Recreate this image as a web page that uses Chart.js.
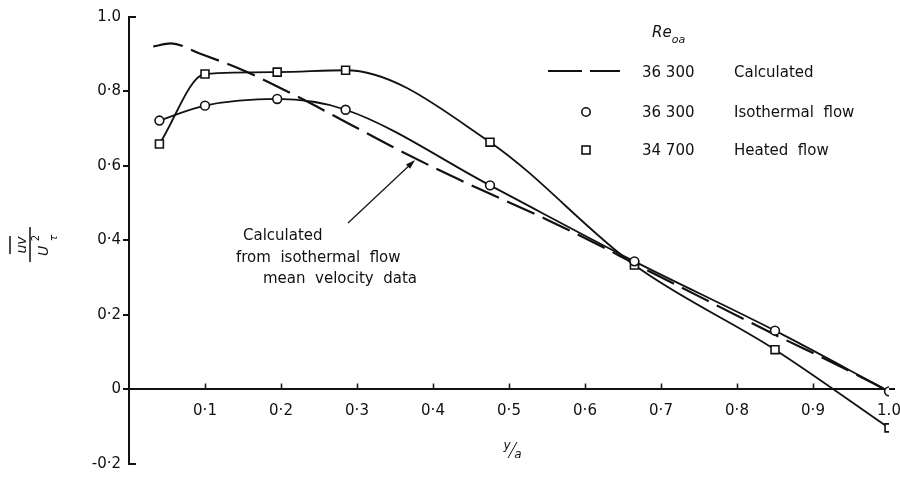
<!DOCTYPE html>
<html>
<head>
<meta charset="utf-8">
<script src="https://cdn.jsdelivr.net/npm/chart.js@4"></script>
<style>
  html, body { margin: 0; padding: 0; background: #fff; }
</style>
</head>
<body>
<canvas id="chart" width="900" height="481"></canvas>
<script>
// values (y/a vs uv/U_tau^2)
const stations = [0.04, 0.1, 0.195, 0.285, 0.475, 0.665, 0.85, 1.0];
const isothermal = [0.722, 0.762, 0.780, 0.751, 0.548, 0.344, 0.158, -0.005];
const heated = [0.659, 0.847, 0.852, 0.857, 0.664, 0.334, 0.107, -0.103];

const calcX = [0.032, 0.055, 0.093, 0.15, 0.22, 0.29, 0.35, 0.41, 0.47, 0.55, 0.62, 0.665, 0.75, 0.85, 0.93, 1.0];
const calcY = [0.921, 0.929, 0.902, 0.857, 0.788, 0.713, 0.648, 0.587, 0.530, 0.456, 0.386, 0.338, 0.250, 0.147, 0.068, -0.005];

const xTicks = [0.1, 0.2, 0.3, 0.4, 0.5, 0.6, 0.7, 0.8, 0.9, 1.0];
const xTickLabels = ['0·1', '0·2', '0·3', '0·4', '0·5', '0·6', '0·7', '0·8', '0·9', '1.0'];
const yTicks = [-0.2, 0, 0.2, 0.4, 0.6, 0.8, 1.0];
const yTickLabels = ['-0·2', '0', '0·2', '0·4', '0·6', '0·8', '1.0'];

const INK = '#111';
const FONT = '"DejaVu Sans", sans-serif';

function pts(xs, ys) {
    return xs.map((x, i) => ({ x: x, y: ys[i] }));
}

function findLabel(ticks, labels, v) {
    const i = ticks.findIndex(t => Math.abs(t - v) < 1e-6);
    return i < 0 ? '' : labels[i];
}

// extra drawing: tick marks, legend, note, axis titles
const decorations = {
    id: 'decorations',
    afterDraw(chart) {
        const ctx = chart.ctx;
        const xs = chart.scales.x;
        const ys = chart.scales.y;
        const ax = xs.getPixelForValue(0);
        const ay = ys.getPixelForValue(0);
        ctx.save();
        ctx.strokeStyle = INK;
        ctx.fillStyle = INK;
        ctx.lineWidth = 2;
        ctx.setLineDash([]);

        // zero line runs a little past 1.0
        ctx.beginPath();
        ctx.moveTo(xs.right, Math.round(ay));
        ctx.lineTo(xs.right + 6, Math.round(ay));
        ctx.stroke();

        // y ticks (ends point inward, rest outward)
        yTicks.forEach((v, i) => {
            const py = Math.round(ys.getPixelForValue(v));
            ctx.beginPath();
            if (i === 0 || i === yTicks.length - 1) {
                ctx.moveTo(ax, py); ctx.lineTo(ax + 7, py);
            } else {
                ctx.moveTo(ax - 6, py); ctx.lineTo(ax, py);
            }
            ctx.stroke();
        });
        // x ticks, upward from the zero line
        ctx.lineWidth = 1.5;
        xTicks.slice(0, -1).forEach(v => {
            const px = Math.round(xs.getPixelForValue(v)) + 0.5;
            ctx.beginPath();
            ctx.moveTo(px, ay); ctx.lineTo(px, ay - 6);
            ctx.stroke();
        });

        // legend
        ctx.textBaseline = 'middle';
        ctx.textAlign = 'left';
        ctx.font = 'italic 15px ' + FONT;
        ctx.fillText('Re', 652, 33);
        const rw = ctx.measureText('Re').width;
        ctx.font = 'italic 11px ' + FONT;
        ctx.fillText('oa', 652 + rw, 40);

        ctx.font = '15px ' + FONT;
        ctx.lineWidth = 2.2;
        ctx.beginPath();
        ctx.moveTo(548, 71); ctx.lineTo(582, 71);
        ctx.moveTo(590, 71); ctx.lineTo(620, 71);
        ctx.stroke();
        ctx.fillText('36 300', 642, 73);
        ctx.fillText('Calculated', 734, 73);

        ctx.lineWidth = 1.6;
        ctx.beginPath();
        ctx.arc(586, 112, 4.2, 0, Math.PI * 2);
        ctx.stroke();
        ctx.fillText('36 300', 642, 113);
        ctx.fillText('Isothermal  flow', 734, 113);

        ctx.strokeRect(582, 146, 8, 8);
        ctx.fillText('34 700', 642, 151);
        ctx.fillText('Heated  flow', 734, 151);

        // note with arrow
        ctx.fillText('Calculated', 243, 236);
        ctx.fillText('from  isothermal  flow', 236, 258);
        ctx.fillText('mean  velocity  data', 263, 279);
        ctx.lineWidth = 1.2;
        ctx.beginPath();
        ctx.moveTo(348, 223); ctx.lineTo(413, 162);
        ctx.stroke();
        const ang = Math.atan2(160 - 223, 415 - 348);
        ctx.beginPath();
        ctx.moveTo(415, 160);
        ctx.lineTo(415 - 10 * Math.cos(ang - 0.3), 160 - 10 * Math.sin(ang - 0.3));
        ctx.lineTo(415 - 10 * Math.cos(ang + 0.3), 160 - 10 * Math.sin(ang + 0.3));
        ctx.closePath();
        ctx.fill();

        // x title  y/a
        ctx.font = 'italic 12px ' + FONT;
        ctx.textAlign = 'center';
        ctx.fillText('y', 507, 446);
        ctx.fillText('a', 518, 455);
        ctx.lineWidth = 1;
        ctx.beginPath();
        ctx.moveTo(508, 458); ctx.lineTo(517, 442);
        ctx.stroke();

        // y title: overline uv / U_tau^2, rotated
        ctx.translate(31, 245);
        ctx.rotate(-Math.PI / 2);
        ctx.font = 'italic 14px ' + FONT;
        ctx.textAlign = 'center';
        ctx.fillText('uv', 0, -9);
        ctx.lineWidth = 1.5;
        ctx.beginPath();
        ctx.moveTo(-9, -21); ctx.lineTo(9, -21);
        ctx.moveTo(-17, -1); ctx.lineTo(18, -1);
        ctx.stroke();
        ctx.fillText('U', -6, 13);
        ctx.font = '10px ' + FONT;
        ctx.fillText('2', 7, 5);
        ctx.font = 'italic 11px ' + FONT;
        ctx.fillText('τ', 7, 23);
        ctx.restore();
    }
};

new Chart(document.getElementById('chart').getContext('2d'), {
    type: 'scatter',
    data: {
        datasets: [
            {
                label: 'Isothermal flow',
                data: pts(stations, isothermal),
                showLine: true,
                cubicInterpolationMode: 'monotone',
                borderColor: INK,
                borderWidth: 1.8,
                pointStyle: 'circle',
                pointRadius: 4.4,
                pointBorderWidth: 1.6,
                pointBorderColor: INK,
                pointBackgroundColor: '#fff'
            },
            {
                label: 'Heated flow',
                data: pts(stations, heated),
                showLine: true,
                cubicInterpolationMode: 'monotone',
                borderColor: INK,
                borderWidth: 1.8,
                pointStyle: 'rect',
                pointRadius: 5.6,
                pointBorderWidth: 1.6,
                pointBorderColor: INK,
                pointBackgroundColor: '#fff'
            },
            {
                label: 'Calculated',
                data: pts(calcX, calcY),
                showLine: true,
                cubicInterpolationMode: 'monotone',
                borderColor: INK,
                borderWidth: 2.2,
                borderDash: [30, 9],
                pointRadius: 0
            }
        ]
    },
    options: {
        responsive: false,
        animation: false,
        layout: { padding: { left: 0, right: 11, top: 14, bottom: 12 } },
        plugins: {
            legend: { display: false },
            tooltip: { enabled: false }
        },
        scales: {
            x: {
                type: 'linear',
                position: { y: 0 },
                min: 0,
                max: 1,
                afterBuildTicks: s => { s.ticks = xTicks.map(v => ({ value: v })); },
                afterFit: s => { s.paddingLeft = 0; s.paddingRight = 0; },
                grid: { display: true, drawOnChartArea: false, drawTicks: false },
                border: { display: true, color: INK, width: 2 },
                ticks: {
                    autoSkip: false,
                    maxRotation: 0,
                    padding: 13,
                    color: INK,
                    font: { family: FONT, size: 15 },
                    callback: v => findLabel(xTicks, xTickLabels, v)
                }
            },
            y: {
                type: 'linear',
                position: 'left',
                min: -0.2,
                max: 1.0,
                afterBuildTicks: s => { s.ticks = yTicks.map(v => ({ value: v })); },
                afterFit: s => { s.width = 129; },
                grid: { display: true, drawOnChartArea: false, drawTicks: false },
                border: { display: true, color: INK, width: 2 },
                ticks: {
                    padding: 8,
                    color: INK,
                    font: { family: FONT, size: 15 },
                    callback: v => findLabel(yTicks, yTickLabels, v)
                }
            }
        }
    },
    plugins: [decorations]
});
</script>
</body>
</html>
